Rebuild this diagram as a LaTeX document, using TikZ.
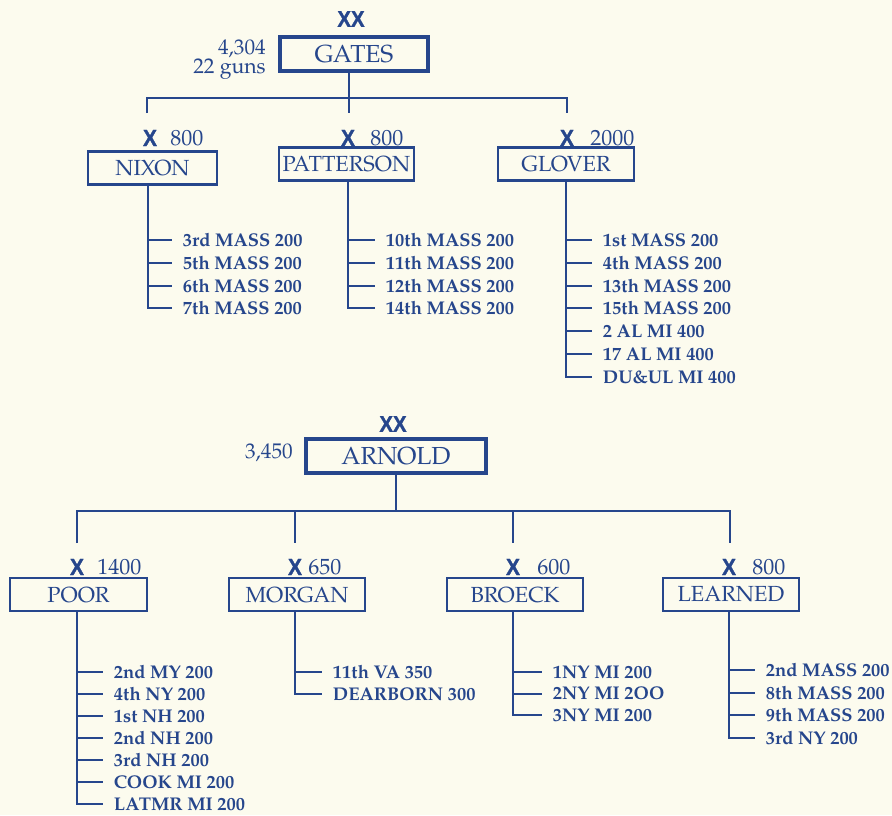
\documentclass[tikz,border=0pt]{standalone}
\usepackage{fontspec}
\setmainfont{TeX Gyre Pagella}
\newfontfamily\xfont[FakeStretch=0.9,FakeBold=1.2]{Liberation Sans}
\definecolor{ink}{RGB}{38,70,140}
\definecolor{paper}{RGB}{252,251,238}
\tikzset{
  corps/.style={draw=ink, line width=3pt, minimum width=111pt, minimum height=25.5pt, inner sep=0pt, font=\fontsize{18.5}{20}\selectfont},
  brig/.style={draw=ink, line width=1.8pt, minimum width=102pt, minimum height=24.5pt, inner sep=0pt, font=\fontsize{16.4}{18}\selectfont},
  unit/.style={anchor=west, inner xsep=8pt, inner ysep=0pt, text height=9.6pt, text depth=0pt, font=\bfseries\fontsize{13.8}{16}\selectfont},
  num/.style={anchor=west, inner sep=0pt, text height=11.4pt, text depth=0pt, font=\fontsize{16.5}{18}\selectfont},
  lab/.style={anchor=east, inner sep=0pt, align=right, font=\fontsize{15.9}{12.9}\selectfont},
  xm/.style={inner sep=0pt, font=\xfont\bfseries\fontsize{17.5}{18}\selectfont},
  xxm/.style={inner sep=0pt, font=\xfont\bfseries\fontsize{17}{18}\selectfont},
  thinline/.style={line width=1.5pt},
  barline/.style={line width=2pt},
}
\begin{document}
\begin{tikzpicture}[x=0.75pt,y=-0.75pt,color=ink]
\fill[paper] (0,0) rectangle (892,815);
\useasboundingbox (0,0) rectangle (892,815);

% ---------------- GATES ----------------
\node[xxm] (gxx) at (351,19) {XX};
\node[corps] (gates) at (354,54) {GATES};
\node[lab] (gstr) at (266,60) {4,304\\22 guns};
\coordinate (tbm) at (349,98);
\coordinate (tbl) at (147,98);
\coordinate (tbr) at (567,98);
\coordinate (dn) at (147,113);
\coordinate (dp) at (349,113);
\coordinate (dg) at (567,113);
\draw[line width=1.3pt] (gates.south -| tbm) -- (tbm);
\draw[barline] (dn) -- (tbl) -- (tbr) -- (dg);
\draw[barline] (tbm) -- (dp);

\node[xm] (nx) at (150,138) {X};
\node[num] (nn) at (170,138) {800};
\node[xm] (px) at (348,138) {X};
\node[num] (pn) at (370,138) {800};
\node[xm] (glx) at (567,138) {X};
\node[num] (gln) at (590,138) {2000};

\node[brig, minimum width=96.75pt] (nixon) at (152.5,168) {NIXON};
\node[brig, minimum width=101.25pt] (patterson) at (346.5,164) {PATTERSON};
\node[brig] (glover) at (566,164) {GLOVER};

% NIXON units
\coordinate (nc) at (148,0);
\node[unit] (n1) at (172,240) {3rd MASS 200};
\node[unit] (n2) at (172,262.8) {5th MASS 200};
\node[unit] (n3) at (172,285.6) {6th MASS 200};
\node[unit] (n4) at (172,308.4) {7th MASS 200};
\draw[thinline] (nixon.south -| nc) |- (n4.west);
\foreach \u in {n1,n2,n3} \draw[thinline] (nc |- \u.west) -- (\u.west);

% PATTERSON units
\coordinate (pc) at (348,0);
\node[unit] (p1) at (375,240) {10th MASS 200};
\node[unit] (p2) at (375,262.8) {11th MASS 200};
\node[unit] (p3) at (375,285.6) {12th MASS 200};
\node[unit] (p4) at (375,308.4) {14th MASS 200};
\draw[thinline] (patterson.south -| pc) |- (p4.west);
\foreach \u in {p1,p2,p3} \draw[thinline] (pc |- \u.west) -- (\u.west);

% GLOVER units
\coordinate (gc) at (566,0);
\node[unit] (g1) at (592,240) {1st MASS 200};
\node[unit] (g2) at (592,262.8) {4th MASS 200};
\node[unit] (g3) at (592,285.6) {13th MASS 200};
\node[unit] (g4) at (592,308.4) {15th MASS 200};
\node[unit] (g5) at (592,331.2) {2 AL MI 400};
\node[unit] (g6) at (592,354) {17 AL MI 400};
\node[unit] (g7) at (592,376.8) {DU\&UL MI 400};
\draw[thinline] (glover.south -| gc) |- (g7.west);
\foreach \u in {g1,g2,g3,g4,g5,g6} \draw[thinline] (gc |- \u.west) -- (\u.west);

% ---------------- ARNOLD ----------------
\node[xxm] (axx) at (393,424) {XX};
\node[corps, minimum width=135pt] (arnold) at (396,456) {ARNOLD};
\node[lab] (astr) at (293,453) {3,450};
\coordinate (bbm) at (396,511);
\coordinate (bbl) at (77,511);
\coordinate (bbr) at (730,511);
\coordinate (dpo) at (77,543);
\coordinate (dmo) at (295,543);
\coordinate (dbr) at (513,543);
\coordinate (dle) at (730,543);
\coordinate (bmo) at (295,511);
\coordinate (bbr2) at (513,511);
\draw[barline] (arnold.south -| bbm) -- (bbm);
\draw[barline] (dpo) -- (bbl) -- (bbr) -- (dle);
\draw[barline] (bmo) -- (dmo);
\draw[barline] (bbr2) -- (dbr);

\node[xm] (pox) at (77,567) {X};
\node[num] (pon) at (97,567) {1400};
\node[xm] (mox) at (295,567) {X};
\node[num] (mon) at (308,567) {650};
\node[xm] (brx) at (513,567) {X};
\node[num] (brn) at (537,567) {600};
\node[xm] (lex) at (729,567) {X};
\node[num] (len) at (752,567) {800};

\node[brig, minimum width=102.75pt] (poor) at (78.5,594.5) {POOR};
\node[brig] (morgan) at (297,594.5) {MORGAN};
\node[brig] (broeck) at (515,594.5) {BROECK};
\node[brig] (learned) at (731,594.5) {LEARNED};

% POOR units
\coordinate (poc) at (77,0);
\node[unit] (o1) at (103,672) {2nd MY 200};
\node[unit] (o2) at (103,694) {4th NY 200};
\node[unit] (o3) at (103,716) {1st NH 200};
\node[unit] (o4) at (103,738) {2nd NH 200};
\node[unit] (o5) at (103,760) {3rd NH 200};
\node[unit] (o6) at (103,782) {COOK MI 200};
\node[unit] (o7) at (103,804) {LATMR MI 200};
\draw[thinline] (poor.south -| poc) |- (o7.west);
\foreach \u in {o1,o2,o3,o4,o5,o6} \draw[thinline] (poc |- \u.west) -- (\u.west);

% MORGAN units
\coordinate (moc) at (295,0);
\node[unit] (m1) at (322,672) {11th VA 350};
\node[unit] (m2) at (322,694) {DEARBORN 300};
\draw[thinline] (morgan.south -| moc) |- (m2.west);
\draw[thinline] (moc |- m1.west) -- (m1.west);

% BROECK units
\coordinate (brc) at (513,0);
\node[unit] (b1) at (542,672) {1NY MI 200};
\node[unit] (b2) at (542,693.5) {2NY MI 2OO};
\node[unit] (b3) at (542,715) {3NY MI 200};
\draw[thinline] (broeck.south -| brc) |- (b3.west);
\foreach \u in {b1,b2} \draw[thinline] (brc |- \u.west) -- (\u.west);

% LEARNED units
\coordinate (lec) at (729,0);
\node[unit] (l1) at (755,670) {2nd MASS 200};
\node[unit] (l2) at (755,692.7) {8th MASS 200};
\node[unit] (l3) at (755,715.4) {9th MASS 200};
\node[unit] (l4) at (755,738) {3rd NY 200};
\draw[thinline] (learned.south -| lec) |- (l4.west);
\foreach \u in {l1,l2,l3} \draw[thinline] (lec |- \u.west) -- (\u.west);
\end{tikzpicture}
\end{document}
